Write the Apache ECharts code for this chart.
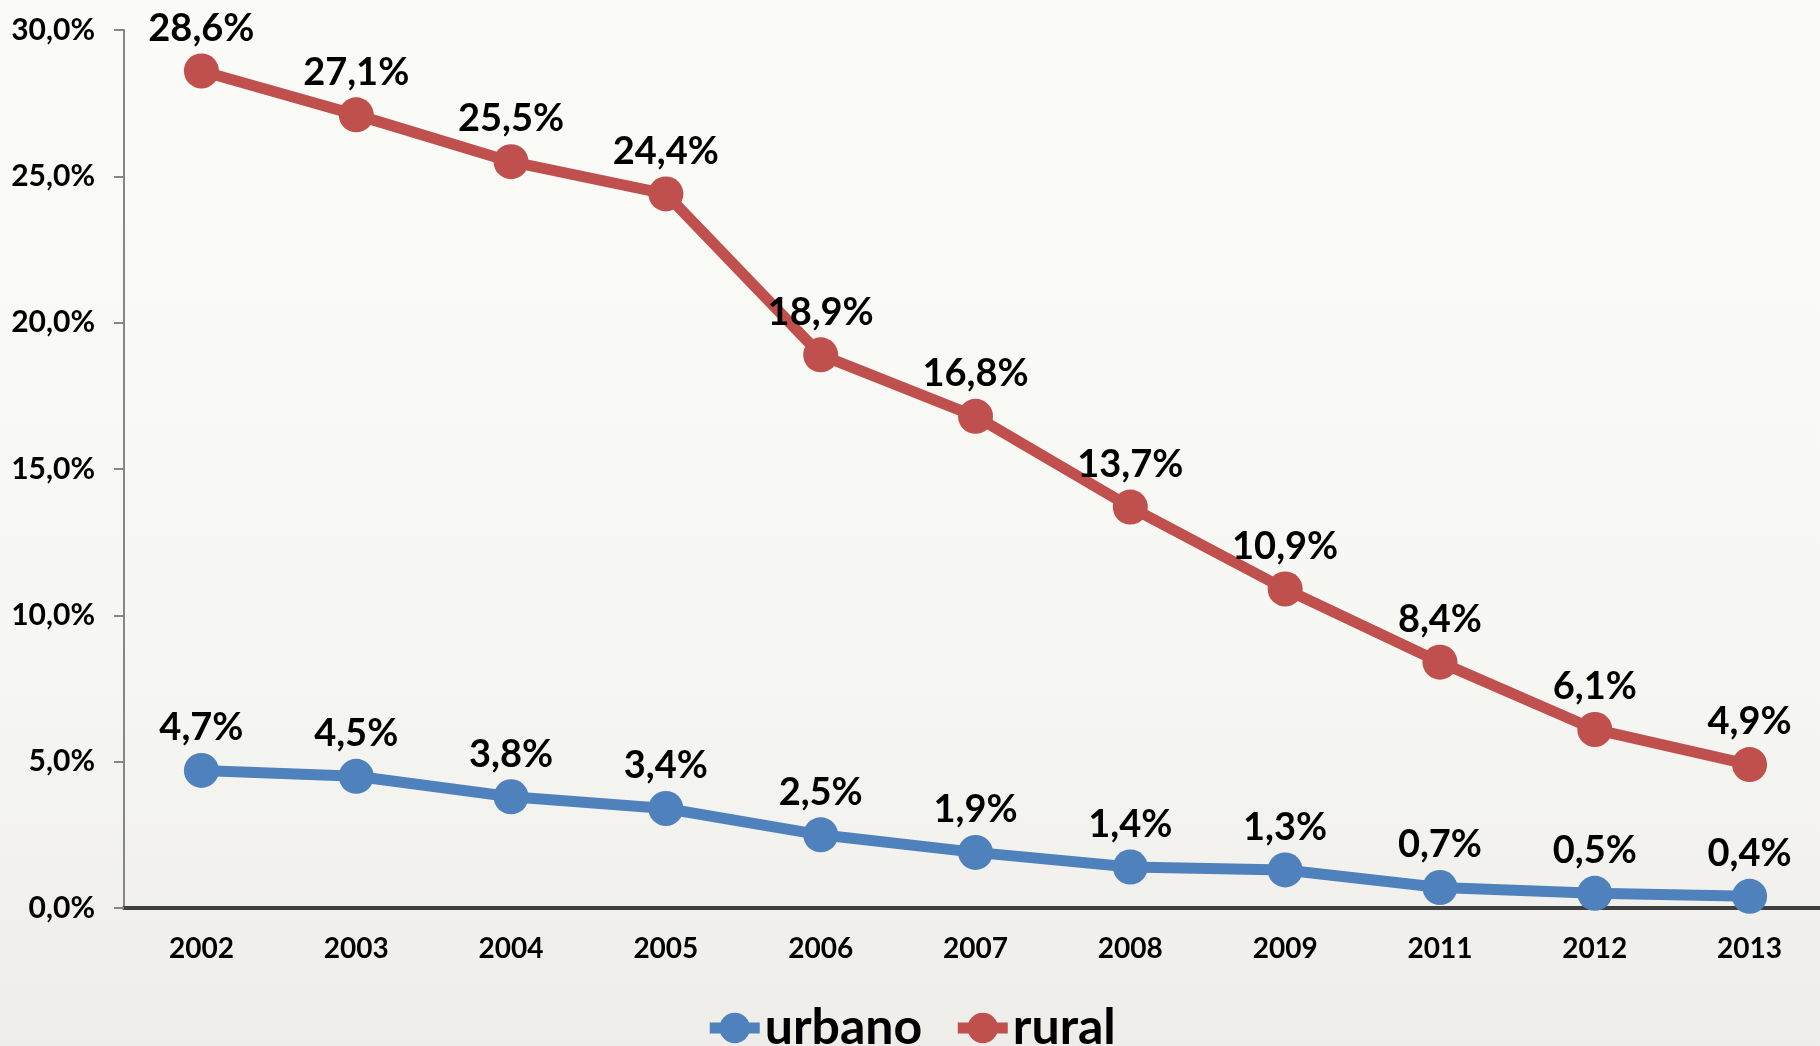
<!DOCTYPE html>
<html lang="pt">
<head>
    <meta charset="UTF-8">
    <title>urbano x rural</title>
    <script type="text/javascript" src="https://cdn.jsdelivr.net/npm/echarts@6/dist/echarts.min.js"></script>
    <style>
        html, body { margin: 0; padding: 0; }
        #container { width: 1820px; height: 1046px; }
    </style>
</head>
<body>
<div id="container"></div>
<script type="text/javascript">
    // dados (%)
    var anos = ['2002', '2003', '2004', '2005', '2006', '2007', '2008', '2009', '2011', '2012', '2013'];
    var urbano = [4.7, 4.5, 3.8, 3.4, 2.5, 1.9, 1.4, 1.3, 0.7, 0.5, 0.4];
    var rural = [28.6, 27.1, 25.5, 24.4, 18.9, 16.8, 13.7, 10.9, 8.4, 6.1, 4.9];
    var yTicks = [0, 5, 10, 15, 20, 25, 30];

    var fonte = 'Lato, "Open Sans", sans-serif';

    function pct(v, casas) {
        return v.toFixed(casas).replace('.', ',') + '%';
    }

    var myChart = echarts.init(document.getElementById('container'), null, {renderer: 'canvas'});

    function serie(nome, dados, cor) {
        return {
            name: nome,
            type: 'line',
            data: dados,
            symbol: 'circle',
            symbolSize: 35,
            showAllSymbol: true,
            lineStyle: {color: cor, width: 11},
            itemStyle: {color: cor},
            label: {
                show: true,
                position: 'top',
                distance: 6,
                color: '#000',
                fontFamily: fonte,
                fontWeight: 'bold',
                fontSize: 38,
                formatter: function (p) { return pct(p.value, 1); }
            },
            emphasis: {disabled: true},
            animation: false
        };
    }

    var option = {
        backgroundColor: {
            type: 'linear', x: 0, y: 0, x2: 0, y2: 1,
            colorStops: [
                {offset: 0, color: '#fbfbf8'},
                {offset: 0.6, color: '#f7f7f3'},
                {offset: 1, color: '#eeede9'}
            ]
        },
        grid: {left: 124, top: 30, width: 1703, height: 878, outerBoundsMode: 'none'},
        legend: {
            left: 'center',
            top: 998,
            itemWidth: 50,
            itemHeight: 38,
            itemGap: 30,
            lineStyle: {width: 'inherit'},
            textStyle: {fontFamily: fonte, fontWeight: 'bold', fontSize: 50, color: '#000'},
            data: ['urbano', 'rural']
        },
        xAxis: {
            type: 'category',
            boundaryGap: true,
            data: anos,
            axisLine: {lineStyle: {color: '#404040', width: 4}},
            axisTick: {show: false},
            axisLabel: {
                margin: 27,
                color: '#000',
                fontFamily: fonte,
                fontWeight: 'bold',
                fontSize: 28
            }
        },
        yAxis: {
            type: 'value',
            min: yTicks[0],
            max: yTicks[yTicks.length - 1],
            interval: 5,
            splitLine: {show: false},
            axisLine: {show: true, lineStyle: {color: '#868686', width: 2}},
            axisTick: {show: true, length: 10, lineStyle: {color: '#868686', width: 2}},
            axisLabel: {
                margin: 29,
                color: '#000',
                fontFamily: fonte,
                fontWeight: 'bold',
                fontSize: 30,
                formatter: function (v) { return pct(v, 1); }
            }
        },
        series: [
            serie('urbano', urbano, '#4f81bd'),
            serie('rural', rural, '#c0504d')
        ]
    };

    myChart.setOption(option);
    window.addEventListener('resize', myChart.resize);
</script>
</body>
</html>
